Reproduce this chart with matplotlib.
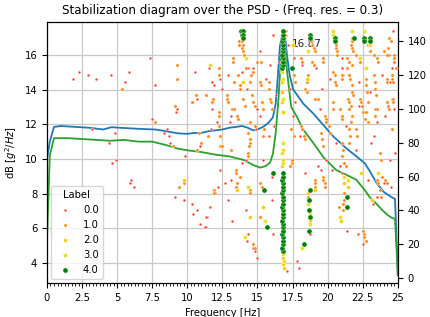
import matplotlib
matplotlib.use("Agg")
import matplotlib.pyplot as plt
from matplotlib.ticker import MultipleLocator, FuncFormatter

# ---------------- data ----------------
psd_freq = [0.0, 0.2, 0.5, 1.0, 2.0, 3.0, 4.0, 4.6, 5.8, 7.0, 7.7, 8.5, 9.3, 10.0, 10.5, 11.0,
            11.5, 12.0, 12.5, 13.0, 13.5, 13.9, 14.3, 14.7, 15.0, 15.4, 15.8, 16.1, 16.3, 16.4,
            16.6, 16.75, 16.87, 17.0, 17.1, 17.3, 17.55, 18.25, 19.0, 19.7, 20.4, 21.35, 22.05,
            22.65, 23.0, 23.5, 24.0, 24.55, 24.8, 25.0]
psd_sv1 = [10.0, 11.0, 11.85, 11.9, 11.85, 11.8, 11.7, 11.83, 11.77, 11.72, 11.7, 11.6, 11.48,
           11.45, 11.5, 11.5, 11.6, 11.65, 11.7, 11.8, 11.85, 11.9, 11.8, 11.65, 11.7, 11.85,
           12.1, 12.4, 13.2, 14.2, 16.5, 17.1, 17.2, 16.8, 16.0, 14.8, 14.0, 13.2, 12.6, 11.95,
           11.3, 10.6, 10.15, 9.75, 9.3, 8.6, 8.1, 7.8, 7.7, 3.3]

psd2_freq = [0.0, 0.2, 0.5, 1.5, 2.5, 3.5, 4.5, 5.5, 6.5, 7.5, 8.5, 9.3, 10.0, 11.0, 12.0, 13.0,
             14.0, 14.7, 15.2, 15.6, 15.9, 16.1, 16.3, 16.5, 16.7, 16.8, 16.87, 17.0, 17.1, 17.4,
             17.8, 18.25, 19.0, 19.7, 20.6, 21.35, 22.05, 22.65, 23.0, 23.5, 23.9, 24.3, 24.6,
             24.8, 25.0]
psd_sv2 = [5.3, 10.2, 11.2, 11.2, 11.15, 11.1, 11.05, 11.1, 11.0, 11.0, 10.8, 10.6, 10.5, 10.4,
           10.25, 10.15, 9.95, 9.65, 9.5, 9.6, 9.8, 10.3, 11.5, 13.5, 16.2, 16.9, 17.0, 16.0,
           15.1, 13.0, 12.45, 11.7, 10.9, 10.1, 9.37, 9.08, 8.8, 8.2, 7.8, 7.4, 7.05, 6.75, 6.6,
           6.55, 3.4]

peak_freq = 16.87
peak_db = 17.25

label0_freq = [1.87, 2.28, 2.94, 3.47, 4.56, 5.82, 5.53, 7.36, 7.69, 7.50, 10.54, 11.54, 11.73,
               11.92, 12.44, 10.70, 9.21, 11.73, 12.13, 11.68, 8.52, 8.33, 8.67, 8.78, 10.87,
               10.70, 12.37, 3.21, 4.82, 4.42, 4.65, 4.89, 6.00, 5.91, 6.22, 9.85, 12.32, 9.09,
               9.73, 10.35, 10.68, 10.40, 10.90, 11.35, 11.37, 11.60, 11.97, 12.16, 12.32, 12.91,
               13.91, 14.22, 14.34, 14.70, 13.10, 13.03, 14.15, 13.87, 12.91, 13.10, 14.17, 14.30,
               14.22, 14.70, 14.80, 14.98, 13.15, 11.25, 11.32, 9.76, 9.24, 12.68, 16.12, 16.07,
               17.07, 15.17, 16.12, 17.19, 15.90, 19.20, 18.14, 19.44, 18.40, 24.67, 22.15, 21.35,
               18.73, 18.14, 17.80, 17.95, 24.43, 22.53, 23.20, 23.50, 19.60, 20.20, 21.00, 21.30,
               22.00, 23.90, 24.10, 24.60, 23.00, 20.60, 19.90, 17.50, 17.70, 18.00, 24.00, 22.90,
               20.30, 24.90, 24.40, 15.60, 16.30, 15.20, 15.80, 15.40, 16.00, 15.00, 14.90, 21.00,
               21.10, 22.20, 22.20, 23.40, 23.50, 24.60, 24.45, 23.30, 23.10, 24.72, 24.79, 24.55,
               16.50, 17.30, 17.60, 16.20, 19.30, 19.50, 20.90, 21.00]
label0_order = [118, 122, 120, 118, 120, 122, 116, 130, 114, 94, 122, 124, 116,
                114, 112, 106, 98, 100, 92, 88, 88, 86, 84, 80, 78,
                76, 78, 88, 86, 80, 68, 70, 58, 56, 54, 72, 64, 48,
                46, 44, 40, 38, 32, 30, 36, 42, 50, 54, 118, 120,
                122, 112, 124, 124, 96, 92, 70, 68, 46, 58, 40, 26,
                22, 18, 16, 12, 34, 30, 36, 46, 100, 56, 26, 46,
                4, 134, 144, 138, 126, 124, 126, 100, 62, 146, 26, 28,
                26, 18, 10, 6, 70, 20, 44, 48, 112, 118, 130, 90,
                76, 120, 96, 106, 110, 80, 70, 96, 104, 84, 56, 58,
                64, 124, 132, 118, 108, 96, 84, 70, 60, 100, 88, 124,
                120, 116, 102, 100, 92, 124, 116, 84, 80, 100, 74, 54,
                128, 112, 130, 90, 66, 64, 66, 62]

label1_freq = [5.34, 7.69, 9.24, 9.24, 12.23, 12.23, 10.61, 10.30, 11.35, 11.85, 11.77, 9.14,
               12.25, 12.25, 10.83, 11.44, 8.97, 10.68, 10.97, 12.30, 9.76, 9.40, 11.87, 13.22,
               13.27, 13.34, 13.63, 13.75, 13.72, 13.68, 13.65, 13.89, 13.96, 14.53, 14.46, 14.98,
               12.80, 12.84, 12.89, 13.18, 13.34, 13.51, 13.58, 13.98, 14.58, 14.34, 14.46, 14.46,
               14.41, 14.34, 14.30, 13.75, 13.51, 13.46, 14.46, 14.50, 12.49, 11.90, 13.50, 13.50,
               15.17, 15.30, 15.17, 14.70, 14.80, 15.24, 13.90, 13.95, 14.05, 13.10, 12.32, 12.27,
               14.08, 14.20, 14.70, 15.20, 15.25, 15.80, 15.85, 15.90, 15.95, 16.00, 14.70, 14.80,
               15.30, 15.40, 14.46, 14.80, 15.50, 15.40,
               17.30, 17.45, 17.45, 18.78, 18.90, 19.00, 19.09, 18.90, 19.00, 19.68, 19.68, 18.60,
               18.60, 18.55, 18.40, 18.50, 19.10, 19.30, 19.80, 19.90, 19.85, 20.40, 20.50, 20.55,
               20.60, 20.99, 20.99, 21.40, 21.50, 21.70, 22.00, 22.20, 22.30, 21.70, 21.70, 21.65,
               21.75, 21.80, 20.60, 20.62, 20.65, 20.70, 21.45, 21.55, 21.65, 21.55, 22.30, 22.40,
               22.45, 22.50, 22.65, 20.40, 20.40, 20.90, 21.00, 21.05, 18.10, 18.15, 18.30, 18.40,
               19.70, 19.70, 19.80, 19.80, 21.20, 21.15, 21.10, 18.60, 19.10, 19.10, 19.10, 22.86,
               22.90, 23.00, 23.30, 24.40, 24.55, 24.30, 24.25, 23.50, 23.60, 23.50, 23.60, 23.70,
               23.80, 22.50, 22.60, 22.60, 22.70, 21.00, 21.10, 21.00, 24.00, 24.70, 24.70, 24.70,
               24.26, 24.26, 24.60, 24.60, 24.65, 24.90, 24.20, 24.30, 24.40, 24.65, 24.65, 24.62,
               23.90, 24.10, 24.20, 21.40, 21.50, 21.60, 21.70, 21.75, 21.80, 21.70, 21.65, 21.55,
               21.60, 21.50, 22.70, 22.75, 22.80, 22.85, 22.75, 23.30, 23.35, 23.40, 23.45, 23.50,
               23.40, 18.10, 18.20, 19.50, 19.60, 19.70, 20.10, 20.20, 21.20, 21.30, 23.70, 23.80,
               22.00, 22.10, 20.80, 21.10, 17.60, 17.70, 17.40, 17.60]
label1_order = [112, 92, 126, 118, 124, 120, 108, 104, 108, 106, 104, 102,
                96, 90, 86, 84, 78, 76, 80, 78, 56, 54, 52, 130,
                128, 116, 120, 114, 112, 140, 138, 136, 134, 120, 116, 128,
                108, 106, 104, 100, 100, 96, 94, 106, 108, 86, 82, 80,
                78, 74, 72, 60, 56, 54, 52, 50, 78, 50, 64, 62,
                56, 54, 36, 20, 18, 128, 140, 138, 132, 76, 84, 98,
                102, 124, 122, 116, 114, 116, 112, 106, 104, 100, 104, 102,
                104, 100, 92, 90, 88, 84,
                66, 68, 70, 140, 138, 136, 134, 128, 126, 130, 128, 120,
                118, 116, 112, 110, 106, 106, 96, 94, 92, 122, 120, 116,
                114, 120, 118, 130, 128, 126, 132, 130, 128, 142, 140, 138,
                136, 134, 138, 136, 134, 132, 106, 104, 102, 100, 106, 104,
                102, 98, 94, 104, 100, 100, 96, 94, 90, 88, 84, 82,
                60, 58, 56, 54, 50, 46, 44, 48, 58, 56, 54, 92,
                138, 134, 132, 142, 140, 136, 132, 130, 128, 58, 56, 52,
                48, 28, 26, 24, 22, 80, 76, 72, 134, 132, 130, 128,
                118, 116, 120, 118, 116, 124, 104, 102, 100, 106, 104, 88,
                60, 58, 56, 124, 120, 118, 114, 110, 108, 96, 92, 88,
                84, 80, 118, 114, 110, 104, 98, 120, 116, 112, 108, 100,
                96, 130, 128, 86, 82, 78, 90, 86, 68, 66, 74, 70,
                88, 84, 42, 40, 120, 116, 88, 84]

label2_freq = [9.78, 13.55, 13.98, 14.46, 15.36, 18.50, 19.13, 22.41, 23.13, 21.45, 16.78, 16.80,
               16.82, 16.85, 16.90, 16.82, 16.75, 16.78, 16.80, 16.75, 20.95, 18.60, 17.55, 18.73,
               21.15]
label2_order = [58, 52, 116, 36, 42, 118, 52, 62, 46, 54, 66, 70,
                76, 8, 6, 12, 110, 104, 98, 116, 34, 50, 138, 34,
                56]

label3_freq = [11.60, 14.20, 14.34, 14.10, 18.60, 20.40, 20.40, 21.70, 22.58, 23.05, 22.34, 22.70,
               16.80, 16.78, 16.80, 16.82, 16.78, 16.80, 16.85, 16.92, 15.53, 18.60, 18.73, 18.72,
               21.20, 21.45, 20.90, 23.60, 18.20]
label3_order = [126, 130, 54, 24, 134, 146, 144, 146, 146, 138, 130, 124,
                80, 74, 68, 118, 122, 106, 14, 10, 34, 44, 38, 32,
                60, 58, 36, 62, 18]

label4_freq = [13.85, 13.95, 13.90, 14.00, 13.95, 16.12, 15.48, 15.70, 17.43, 18.73, 18.73, 20.50,
               20.50, 21.86, 22.58, 22.58, 23.05, 23.05, 18.65, 18.70, 18.70, 18.33, 21.40, 21.35,
               18.72, 18.75,
               16.80, 16.78, 16.80, 16.82, 16.80, 16.78, 16.80, 16.82, 16.80, 16.78, 16.80, 16.82,
               16.80, 16.78, 16.80, 16.82, 16.80, 16.78, 16.80, 16.82, 16.80, 16.78, 16.80, 16.82,
               16.78, 16.80, 16.82, 16.80, 16.78, 16.80, 16.82, 16.80, 16.78, 16.80, 16.82, 16.80]
label4_order = [146, 146, 144, 144, 142, 62, 52, 30, 124, 144, 142, 142,
                140, 142, 142, 140, 142, 140, 46, 40, 28, 20, 48, 42,
                52, 36,
                16, 18, 20, 22, 24, 26, 28, 30, 32, 34, 36, 38,
                40, 42, 44, 46, 48, 50, 52, 54, 56, 58, 60, 62,
                124, 126, 128, 130, 132, 134, 136, 138, 140, 142, 144, 146]

labels = ["0.0", "1.0", "2.0", "3.0", "4.0"]
label_colors = ["#ff2a1a", "#ff8c1a", "#ffcc00", "#e6e22e", "#008000"]
label_sizes = [4, 6, 8, 10, 14]

# ---------------- plot ----------------
plt.rcParams["font.size"] = 7.2
fig = plt.figure(figsize=(4.31, 3.17), dpi=100)
ax1 = fig.add_axes([0.109, 0.107, 0.814, 0.824])
ax2 = ax1.twinx()

ax1.plot(psd_freq, psd_sv1, color="C0", lw=1.3)
ax1.plot(psd2_freq, psd_sv2, color="C2", lw=1.3)
ax1.plot([peak_freq], [peak_db], "x", color="C1", ms=4, mew=1)
ax1.text(17.45, 16.62, "16.87", va="center", ha="left", fontsize=7.5, color="#222222")

groups = [(label0_freq, label0_order), (label1_freq, label1_order), (label2_freq, label2_order),
          (label3_freq, label3_order), (label4_freq, label4_order)]
for (fx, fy), lab, col, sz in zip(groups, labels, label_colors, label_sizes):
    ax2.scatter(fx, fy, s=sz, c=col, edgecolors="white", linewidths=0.3, label=lab, zorder=3)

ax1.set_xlim(0, 25)
ax1.set_ylim(2.85, 17.9)
ax2.set_ylim(-3, 151.5)
ax1.xaxis.set_major_locator(MultipleLocator(2.5))
ax1.xaxis.set_minor_locator(MultipleLocator(0.25))
ax1.xaxis.set_major_formatter(FuncFormatter(lambda v, p: "%g" % v))
ax1.yaxis.set_major_locator(MultipleLocator(2))
ax2.yaxis.set_major_locator(MultipleLocator(20))
ax1.grid(True, color="#c8c8c8", lw=0.9)

ax1.set_xlabel("Frequency [Hz]")
ax1.set_ylabel("dB $[g^2/Hz]$")
ax2.set_ylabel("Stabilization Diagram")
ax1.set_title("Stabilization diagram over the PSD - (Freq. res. = 0.3)", fontsize=8.6)

leg = ax2.legend(title="Label", loc="lower left", fontsize=7.2, title_fontsize=7.2,
                 borderaxespad=0.4)

fig.savefig("out.png", dpi=100)
